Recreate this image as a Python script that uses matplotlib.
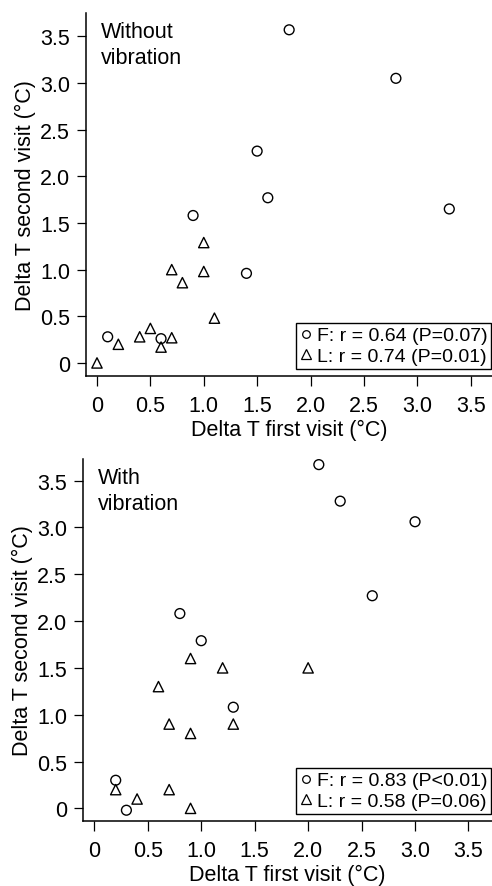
from matplotlib import pyplot as plt
from matplotlib.lines import Line2D

plt.rcParams['font.family'] = ['Liberation Sans', 'DejaVu Sans']
plt.rcParams['font.size'] = 15.5

# Without vibration
f1_x = [0.1, 0.6, 0.9, 1.4, 1.5, 1.6, 1.8, 2.8, 3.3]
f1_y = [0.28, 0.26, 1.58, 0.96, 2.27, 1.77, 3.57, 3.05, 1.65]
l1_x = [0.0, 0.2, 0.4, 0.5, 0.6, 0.7, 0.7, 0.8, 1.0, 1.0, 1.1]
l1_y = [0.0, 0.2, 0.28, 0.37, 0.17, 0.27, 1.0, 0.86, 1.29, 0.98, 0.48]

# With vibration
f2_x = [0.2, 0.3, 0.8, 1.0, 1.3, 2.1, 2.3, 2.6, 3.0]
f2_y = [0.3, -0.02, 2.08, 1.79, 1.08, 3.67, 3.28, 2.27, 3.06]
l2_x = [0.2, 0.4, 0.6, 0.7, 0.7, 0.9, 0.9, 0.9, 1.2, 1.3, 2.0]
l2_y = [0.2, 0.1, 1.3, 0.9, 0.2, 1.6, 0.8, 0.0, 1.5, 0.9, 1.5]

ticks = [0, 0.5, 1.0, 1.5, 2.0, 2.5, 3.0, 3.5]
tick_labels = ['0', '0.5', '1.0', '1.5', '2.0', '2.5', '3.0', '3.5']

panels = [
    ('Without\nvibration', f1_x, f1_y, l1_x, l1_y,
     'F: r = 0.64 (P=0.07)', 'L: r = 0.74 (P=0.01)',
     [86/492, 1 - 377/887, 406/492, 363/887], (-0.103, 3.70), (-0.14, 3.75)),
    ('With\nvibration', f2_x, f2_y, l2_x, l2_y,
     'F: r = 0.83 (P<0.01)', 'L: r = 0.58 (P=0.06)',
     [83/492, 1 - 822/887, 409/492, 362/887], (-0.106, 3.72), (-0.135, 3.73)),
]

fig = plt.figure(figsize=(4.92, 8.87), dpi=100)

for title, fx, fy, lx, ly, flab, llab, rect, xl, yl in panels:
    ax = fig.add_axes(rect)
    ax.scatter(fx, fy, marker='o', s=50, facecolors='none', edgecolors='black', linewidths=1.0)
    ax.scatter(lx, ly, marker='^', s=55, facecolors='none', edgecolors='black', linewidths=1.0)
    ax.set_xlim(*xl)
    ax.set_ylim(*yl)
    ax.set_xticks(ticks)
    ax.set_xticklabels(tick_labels)
    ax.set_yticks(ticks)
    ax.set_yticklabels(tick_labels)
    ax.spines['top'].set_visible(False)
    ax.spines['right'].set_visible(False)
    ax.spines['left'].set_linewidth(1.1)
    ax.spines['bottom'].set_linewidth(1.1)
    ax.tick_params(axis='x', length=7, width=0.9, pad=7)
    ax.tick_params(axis='y', length=6.5, width=0.9, pad=5)
    ax.set_xlabel('Delta T first visit (°C)', labelpad=2)
    ax.set_ylabel('Delta T second visit (°C)', labelpad=3)
    ax.text(0.036, 0.978, title, transform=ax.transAxes, va='top', ha='left', linespacing=1.3)

    # legend: small markers inline with the correlation text
    handles = [
        Line2D([], [], marker='o', ls='none', mfc='none', mec='black', ms=5.5, mew=0.9),
        Line2D([], [], marker='^', ls='none', mfc='none', mec='black', ms=6.5, mew=0.9),
    ]
    leg = ax.legend(handles, [flab, llab], loc='lower right', bbox_to_anchor=(0.998, 0.02),
                    borderaxespad=0, fontsize=14, handlelength=0.6, handletextpad=0.25,
                    borderpad=0.2, labelspacing=0.15, fancybox=False, framealpha=1)
    leg.get_frame().set_edgecolor('black')
    leg.get_frame().set_linewidth(1.0)

fig.savefig('out.png', dpi=100)
